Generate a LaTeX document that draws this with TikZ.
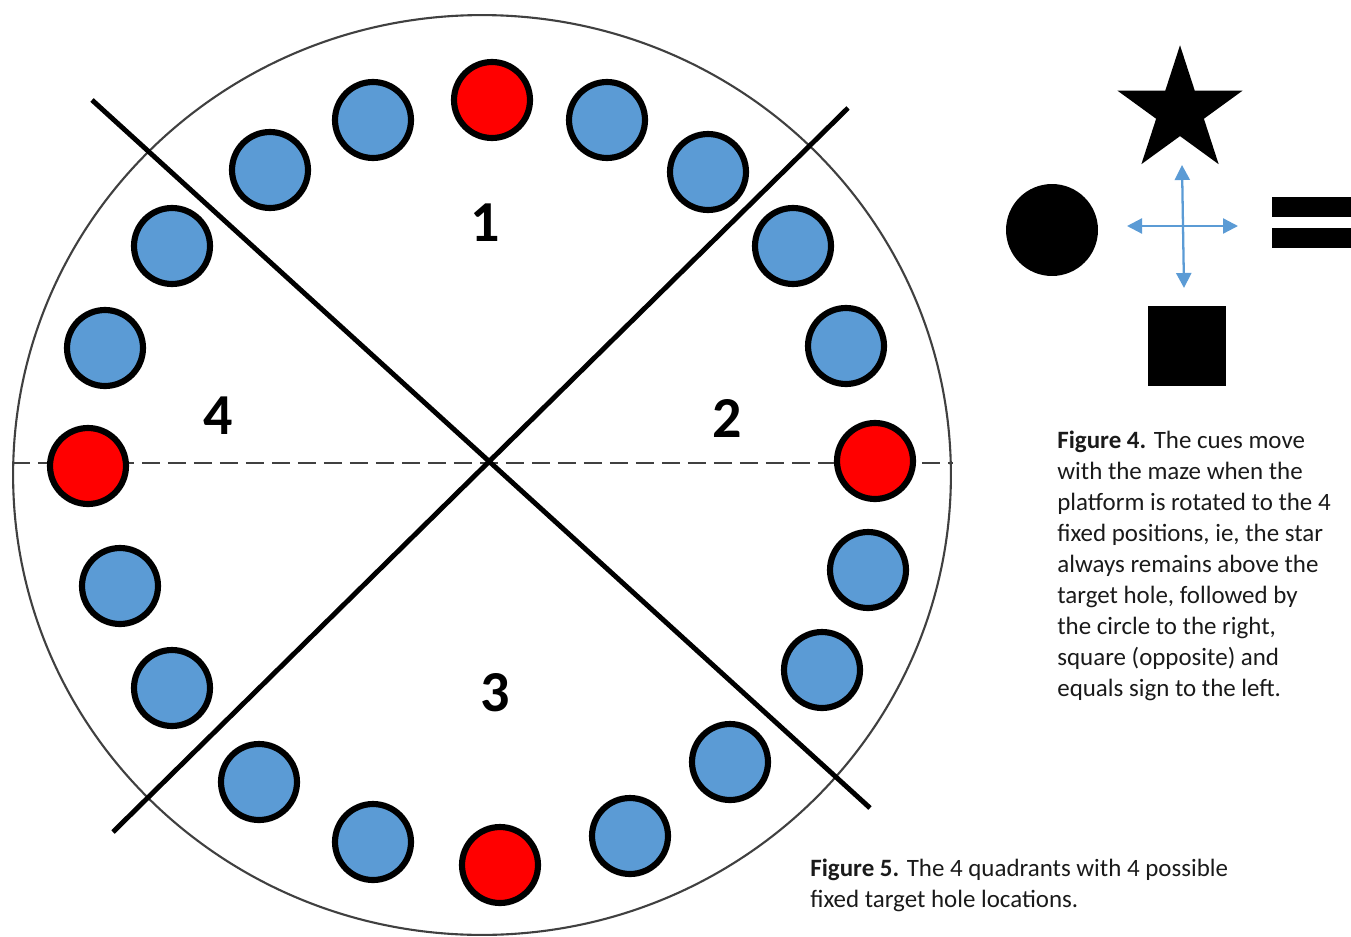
\documentclass[tikz,border=0pt]{standalone}
\usepackage{fontspec}
\setmainfont{Carlito}
\usetikzlibrary{arrows.meta,shapes.geometric}
\definecolor{holeblue}{HTML}{5B9BD5}
\definecolor{holered}{HTML}{FF0000}
\definecolor{rimgray}{HTML}{404040}
\definecolor{captiontext}{HTML}{1A1A1A}
\tikzset{
  hole/.style={
    circle,
    draw=black,
    line width=3.5pt,
    fill=holeblue,
    minimum size=1.52cm,
    inner sep=0pt
  },
  targethole/.style={
    hole,
    fill=holered
  },
  quadnum/.style={
    font=\bfseries\fontsize{33}{33}\selectfont,
    inner sep=0pt
  },
  divider/.style={
    line width=2.8pt,
    draw=black
  },
  midline/.style={
    line width=1.7pt,
    draw=rimgray,
    dash pattern=on 0.36cm off 0.16cm
  },
  cuearrow/.style={
    {Triangle[length=3mm,width=3mm]}-{Triangle[length=3mm,width=3mm]},
    line width=1.3pt,
    draw=holeblue
  },
  caption/.style={
    align=left,
    anchor=north west,
    inner sep=0pt,
    text=captiontext,
    font=\fontsize{14.2}{17.6}\selectfont
  }
}

\begin{document}
\begin{tikzpicture}[x=0.02cm, y=-0.02cm]
  \useasboundingbox (0,0) rectangle (1351,936);

  % maze rim and quadrant lines
  \draw[line width=1.2pt, draw=rimgray] (482,475) ellipse [x radius=9.38cm, y radius=9.2cm];
  \coordinate (rimw) at (12,463);
  \coordinate (rime) at (953,463);
  \draw[midline] (rimw) -- (rime);
  \coordinate (nw) at (92,100);
  \coordinate (se) at (870,808);
  \coordinate (ne) at (848,108);
  \coordinate (sw) at (113,832);
  \draw[divider] (nw) -- (se);
  \draw[divider] (ne) -- (sw);

  % holes
  \node[targethole] (h1) at (492,100) {};
  \node[hole] (h2) at (607,120) {};
  \node[hole] (h3) at (708,172) {};
  \node[hole] (h4) at (793,246) {};
  \node[hole] (h5) at (846,346) {};
  \node[targethole] (h6) at (875,461) {};
  \node[hole] (h7) at (868,570) {};
  \node[hole] (h8) at (822,670) {};
  \node[hole] (h9) at (730,762) {};
  \node[hole] (h10) at (630,836) {};
  \node[targethole] (h11) at (500,865) {};
  \node[hole] (h12) at (373,842) {};
  \node[hole] (h13) at (259,782) {};
  \node[hole] (h14) at (172,688) {};
  \node[hole] (h15) at (120,586) {};
  \node[targethole] (h16) at (88,466) {};
  \node[hole] (h17) at (105,348) {};
  \node[hole] (h18) at (172,246) {};
  \node[hole] (h19) at (270,170) {};
  \node[hole] (h20) at (373,120) {};

  % quadrant numbers
  \node[quadnum] (q1) at (485,223) {1};
  \node[quadnum] (q2) at (727,418) {2};
  \node[quadnum] (q3) at (495,693) {3};
  \node[quadnum] (q4) at (218,416) {4};

  % cues
  \node[star, star points=5, star point ratio=2.618, fill=black, minimum size=2.63cm, inner sep=0pt] (cuestar) at (1180,111) {};
  \node[circle, fill=black, minimum size=1.84cm, inner sep=0pt] (cuecircle) at (1052,230) {};
  \node[rectangle, fill=black, minimum width=1.56cm, minimum height=1.6cm, inner sep=0pt] (cuesquare) at (1187,346) {};
  \node[rectangle, fill=black, minimum width=1.58cm, minimum height=0.42cm, inner sep=0pt] (eqtop) at (1311,207) {};
  \node[rectangle, fill=black, minimum width=1.58cm, minimum height=0.4cm, inner sep=0pt] (eqbottom) at (1311,238) {};
  \coordinate (arrup) at (1182,165);
  \coordinate (arrdown) at (1184,288);
  \coordinate (arrleft) at (1127,226);
  \coordinate (arrright) at (1238,226);
  \draw[cuearrow] (arrup) -- (arrdown);
  \draw[cuearrow] (arrleft) -- (arrright);

  % captions
  \node[caption] (fig4) at (1057,431) {\textbf{Figure 4.} The cues move\\
    with the maze when the\\
    platform is rotated to the 4\\
    fixed positions, ie, the star\\
    always remains above the\\
    target hole, followed by\\
    the circle to the right,\\
    square (opposite) and\\
    equals sign to the left.};
  \node[caption] (fig5) at (810,859) {\textbf{Figure 5.} The 4 quadrants with 4 possible\\
    fixed target hole locations.};
\end{tikzpicture}
\end{document}
